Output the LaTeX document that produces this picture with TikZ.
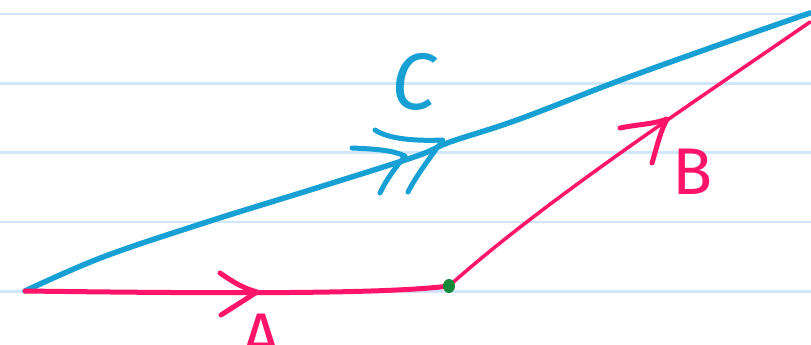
\documentclass[tikz,border=0pt]{standalone}
\usepackage{fontspec}
\usetikzlibrary{shapes.geometric}
\setmainfont{Fira Sans}
\definecolor{paper}{RGB}{208,231,250}
\definecolor{vblue}{RGB}{22,160,212}
\definecolor{vpink}{RGB}{255,20,105}
\definecolor{vgreen}{RGB}{18,138,58}
\tikzset{
  ruled/.style={paper, line width=2.5pt},
  vecA/.style={vpink, line width=5pt, line cap=round, line join=round},
  vecB/.style={vpink, line width=3.5pt, line cap=round, line join=round},
  vecC/.style={vblue, line width=5.5pt, line cap=round, line join=round},
  chevP/.style={vpink, line width=5pt, line cap=round, line join=round},
  chevC/.style={vblue, line width=5pt, line cap=round, line join=round},
  lbl/.style={inner sep=0pt, font=\fontsize{66}{66}\selectfont},
}
\begin{document}
\begin{tikzpicture}[x=1pt,y=-1pt]
\useasboundingbox (0,0) rectangle (811,345);
\fill[white] (0,0) rectangle (811,345);
% ruled paper lines
\foreach \yy in {14,83.3,152.7,222,291.3}
  \draw[ruled] (0,\yy) -- (811,\yy);
% points
\coordinate (O) at (25,291);
\coordinate (T) at (810,13);
\coordinate (TB) at (810,22);
\coordinate (G) at (449,286);
% vector C
\draw[vecC] plot[smooth, tension=0.6] coordinates {(O) (103,257) (207,222) (310,190) (414,157) (450,142) (517,120) (621,80) (724,43) (T)};
% vector A
\draw[vecA] (O) .. controls (180,293) and (380,295) .. (G);
% vector B
\draw[vecB] (G) .. controls (545,200) and (700,98) .. (TB);
% start point dot
\node[ellipse, fill=vgreen, minimum width=12pt, minimum height=14pt, inner sep=0pt] (dot) at (G) {};
% chevrons
\draw[chevP] (220,273) .. controls (232,281) and (240,287) .. (257,292) -- (221,315);
\coordinate (Btip) at (667,119);
\draw[chevP] (620,128) .. controls (640,124) and (655,124) .. (Btip) .. controls (660,132) and (656,150) .. (652,163);
\draw[chevC] (375,130) .. controls (390,140) and (420,141) .. (443,140) .. controls (428,160) and (415,178) .. (408,192);
\draw[chevC] (352,148) .. controls (375,149) and (392,150) .. (405,156) .. controls (395,168) and (386,180) .. (380,193);
% labels
\node[lbl, text=vblue, font=\fontsize{80}{80}\selectfont\itshape] (LC) at (414,82) {C};
\node[lbl, text=vpink] (LB) at (693,172) {B};
\node[lbl, text=vpink, anchor=north] (LA) at (261,314) {A};
\end{tikzpicture}
\end{document}
